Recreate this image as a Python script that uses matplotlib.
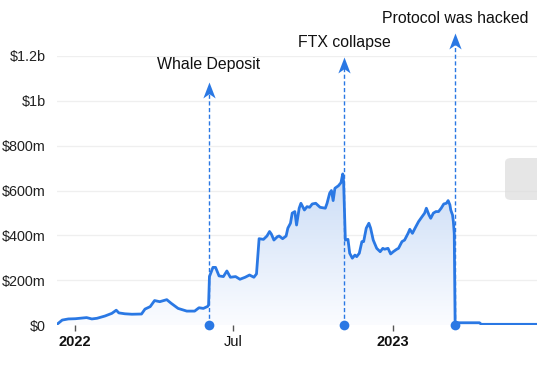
import matplotlib
matplotlib.use('Agg')
import matplotlib.pyplot as plt
import matplotlib.dates as mdates
import matplotlib.transforms as mtransforms
from matplotlib.path import Path
from matplotlib.patches import FancyBboxPatch
from matplotlib.colors import LinearSegmentedColormap
import numpy as np
import pandas as pd

# ---------------- data ----------------
dates = [
    "2021-12-11", "2021-12-17", "2021-12-24", "2022-01-01", "2022-01-14", "2022-01-20",
    "2022-01-26", "2022-02-04", "2022-02-12", "2022-02-17", "2022-02-20", "2022-02-27",
    "2022-03-07", "2022-03-18", "2022-03-22", "2022-03-28", "2022-04-02", "2022-04-08",
    "2022-04-16", "2022-04-21", "2022-04-29", "2022-05-09", "2022-05-18", "2022-05-23",
    "2022-05-28", "2022-06-02", "2022-06-03", "2022-06-04", "2022-06-08", "2022-06-11",
    "2022-06-15", "2022-06-20", "2022-06-24", "2022-06-28", "2022-07-04", "2022-07-09",
    "2022-07-15", "2022-07-20", "2022-07-25", "2022-07-28", "2022-07-31", "2022-08-05",
    "2022-08-09", "2022-08-12", "2022-08-14", "2022-08-17", "2022-08-21", "2022-08-23",
    "2022-08-27", "2022-08-31", "2022-09-02", "2022-09-05", "2022-09-07", "2022-09-10",
    "2022-09-12", "2022-09-15", "2022-09-17", "2022-09-21", "2022-09-24", "2022-09-27",
    "2022-09-30", "2022-10-04", "2022-10-09", "2022-10-15", "2022-10-17", "2022-10-20",
    "2022-10-22", "2022-10-24", "2022-10-26", "2022-10-30", "2022-11-02", "2022-11-04",
    "2022-11-05", "2022-11-07", "2022-11-10", "2022-11-12", "2022-11-15", "2022-11-18",
    "2022-11-20", "2022-11-23", "2022-11-26", "2022-11-28", "2022-12-01", "2022-12-04",
    "2022-12-06", "2022-12-09", "2022-12-13", "2022-12-17", "2022-12-20", "2022-12-22",
    "2022-12-26", "2022-12-29", "2023-01-01", "2023-01-05", "2023-01-07", "2023-01-11",
    "2023-01-14", "2023-01-18", "2023-01-20", "2023-01-23", "2023-01-26", "2023-01-30",
    "2023-02-03", "2023-02-06", "2023-02-08", "2023-02-11", "2023-02-13", "2023-02-16",
    "2023-02-19", "2023-02-22", "2023-02-25", "2023-02-28", "2023-03-03", "2023-03-05",
    "2023-03-07", "2023-03-08", "2023-03-10", "2023-03-11", "2023-03-12", "2023-03-13",
    "2023-04-10", "2023-04-12", "2023-06-15",
]
tvl_m = [
    3, 22, 27, 28, 33, 27,
    30, 40, 52, 66, 54, 50,
    48, 49, 71, 82, 109, 104,
    113, 97, 74, 62, 62, 77,
    74, 83, 90, 216, 257, 257,
    219, 216, 241, 213, 216, 204,
    213, 223, 213, 228, 385, 382,
    397, 417, 406, 379, 394, 397,
    385, 397, 432, 454, 499, 506,
    446, 521, 543, 513, 528, 525,
    540, 543, 525, 521, 543, 588,
    600, 555, 610, 621, 635, 674,
    640, 379, 382, 320, 298, 312,
    305, 320, 372, 372, 432, 454,
    432, 379, 342, 327, 342, 338,
    342, 317, 327, 338, 342, 372,
    379, 409, 427, 409, 432, 461,
    483, 499, 521, 491, 476, 499,
    506, 506, 521, 540, 543, 555,
    536, 513, 491, 461, 409, 10,
    10, 3, 3,
]
event_dates = ["2022-06-03", "2022-11-06", "2023-03-13"]
event_labels = ["Whale Deposit", "FTX collapse", "Protocol was hacked"]
y_ticks_m = [0, 200, 400, 600, 800, 1000, 1200]
y_tick_labels = ["$0", "$200m", "$400m", "$600m", "$800m", "$1b", "$1.2b"]
x_tick_dates = ["2022-01-01", "2022-07-01", "2023-01-01"]
x_tick_labels = ["2022", "Jul", "2023"]
x_tick_bold = [True, False, True]

# ---------------- style ----------------
plt.rcParams['font.family'] = ['Liberation Sans', 'DejaVu Sans']
LINE = '#2a78e4'
W, H = 537, 365
fig = plt.figure(figsize=(W / 100, H / 100), dpi=100)
ax = fig.add_axes([57 / W, (H - 325) / H, (W - 57) / W, (325 - 56) / H])

x = pd.to_datetime(dates)
y = np.array(tvl_m, dtype=float)
xn = mdates.date2num(x)

xl = (mdates.date2num(pd.Timestamp("2021-12-11")), mdates.date2num(pd.Timestamp("2023-06-15")))

# grid
for v in y_ticks_m[1:]:
    ax.axhline(v, color='#efefef', lw=0.9, zorder=0)
ax.axhline(0, color='#bdbdbd', lw=1.0, zorder=1)

# gradient fill
poly = ax.fill_between(xn, y, 0, color='none', lw=0)
grad = np.linspace(1, 0, 256).reshape(-1, 1)
cmap = LinearSegmentedColormap.from_list('g', ['#fbfcff', '#c8dbf6'])
im = ax.imshow(grad, cmap=cmap, aspect='auto', extent=[xl[0], xl[1], 0, 700],
               origin='upper', zorder=1.5, vmin=0, vmax=1)
im.set_clip_path(poly.get_paths()[0], transform=ax.transData)
ax.set_xlim(xl)
ax.set_ylim(0, 1200)

ax.plot(xn, y, color=LINE, lw=2.0, zorder=3, solid_joinstyle='round', solid_capstyle='round')

# events
arrow_path = Path([(0, 0), (-0.5, -1.3), (0, -0.95), (0.5, -1.3), (0, 0)],
                  [Path.MOVETO, Path.LINETO, Path.LINETO, Path.LINETO, Path.CLOSEPOLY])
tips = [0.903, 0.996, 1.086]      # axes fraction of arrow tip
text_y = [0.967, 1.052, 1.141]    # axes fraction of label centre
trans = mtransforms.blended_transform_factory(ax.transData, ax.transAxes)
for d, lab, tp, ty in zip(event_dates, event_labels, tips, text_y):
    xe = mdates.date2num(pd.Timestamp(d))
    ax.plot([xe, xe], [0, tp - 0.02], transform=trans, color=LINE, lw=1.0,
            ls=(0, (3, 1.8)), zorder=4, clip_on=False)
    ax.plot([xe], [tp], transform=trans, marker=arrow_path, markersize=23,
            color=LINE, mec=LINE, mew=0, zorder=5, clip_on=False)
    ax.plot([xe], [0], transform=trans, marker='o', markersize=7, color=LINE,
            mew=0, zorder=6, clip_on=False)
    ax.text(xe, ty, lab, transform=trans, ha='center', va='center',
            fontsize=11.4, color='#111111', clip_on=False)

# watermark badge (partially off the right edge)
badge = FancyBboxPatch((505 / W, (H - 200) / H), 40 / W, 42 / H,
                       boxstyle='round,pad=0,rounding_size=0.012',
                       transform=fig.transFigure, facecolor='#dcdcdc',
                       edgecolor='none', alpha=0.7, zorder=10)
fig.patches.append(badge)

# axes styling
for s in ax.spines.values():
    s.set_visible(False)
ax.set_yticks(y_ticks_m)
ax.set_yticklabels(y_tick_labels, fontsize=10.4, color='#222222')
ax.tick_params(axis='y', length=0, pad=8)
ax.set_xticks([mdates.date2num(pd.Timestamp(d)) for d in x_tick_dates])
ax.set_xticklabels(x_tick_labels, fontsize=10.5, color='#111111')
for lbl, b in zip(ax.get_xticklabels(), x_tick_bold):
    lbl.set_fontweight('bold' if b else 'normal')
ax.tick_params(axis='x', length=4, width=1, color='#555555', pad=3)

fig.savefig('out.png', dpi=100)
